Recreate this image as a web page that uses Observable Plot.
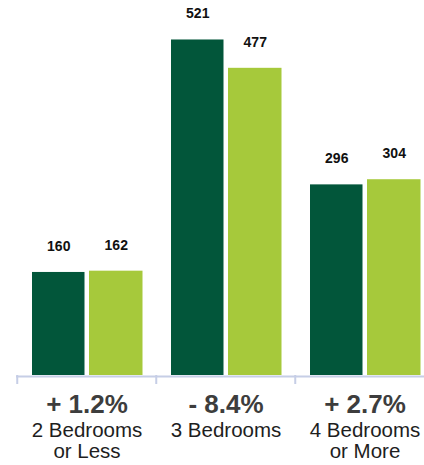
<!DOCTYPE html>
<html>
<head>
<meta charset="utf-8">
<script src="https://cdn.jsdelivr.net/npm/d3@7"></script>
<script src="https://cdn.jsdelivr.net/npm/@observablehq/plot@0.6"></script>
<style>
  html, body { margin: 0; padding: 0; background: #ffffff; }
  #chart { width: 424px; height: 465px; }
</style>
</head>
<body>
<div id="chart"></div>
<script>
const categories = ["2 Bedrooms\nor Less", "3 Bedrooms", "4 Bedrooms\nor More"];
const priorValues = [160, 521, 296];
const currentValues = [162, 477, 304];
const changeLabels = ["+ 1.2%", "- 8.4%", "+ 2.7%"];

const rows = categories.map((c, i) => ({
  category: c,
  prior: priorValues[i],
  current: currentValues[i],
  change: changeLabels[i]
}));

const DARK = "#02563a";
const LIGHT = "#a6c93b";
const AXIS = "#c6cee6";
const FONT = "'Liberation Sans', Arial, Helvetica, sans-serif";

const chart = Plot.plot({
  width: 424,
  height: 465,
  marginTop: 0,
  marginBottom: 90,
  marginLeft: 16,
  marginRight: 0,
  style: { fontFamily: FONT, background: "#ffffff" },
  x: { domain: categories, range: [16, 434.5], padding: 0, axis: null },
  y: { domain: [0, 582.3], axis: null },
  marks: [
    Plot.ruleY([0], { stroke: AXIS, strokeWidth: 2, dy: 1 }),
    Plot.ruleX(rows, { x: "category", y1: 0, y2: -14, dx: -69.75, stroke: AXIS, strokeWidth: 2 }),
    Plot.barY(rows, { x: "category", y: "prior", fill: DARK, insetLeft: 15, insetRight: 71.5 }),
    Plot.barY(rows, { x: "category", y: "current", fill: LIGHT, insetLeft: 72, insetRight: 13.5 }),
    Plot.text(rows, { x: "category", y: "prior", text: d => String(d.prior), dx: -28.25, dy: -26,
      fontSize: 14, fontWeight: "bold", fill: "#111111", lineAnchor: "middle" }),
    Plot.text(rows, { x: "category", y: "current", text: d => String(d.current), dx: 29.25, dy: -26,
      fontSize: 14, fontWeight: "bold", fill: "#111111", lineAnchor: "middle" }),
    Plot.text(rows, { x: "category", y: 0, text: "change", dy: 29,
      fontSize: 26, fontWeight: "bold", fill: "#3d3d3d", lineAnchor: "middle" }),
    Plot.text(rows, { x: "category", y: 0, text: "category", dy: 46,
      fontSize: 20.5, fill: "#1e1e1e", lineAnchor: "top", lineHeight: 1.05 })
  ]
});

document.getElementById("chart").appendChild(chart);
</script>
</body>
</html>
